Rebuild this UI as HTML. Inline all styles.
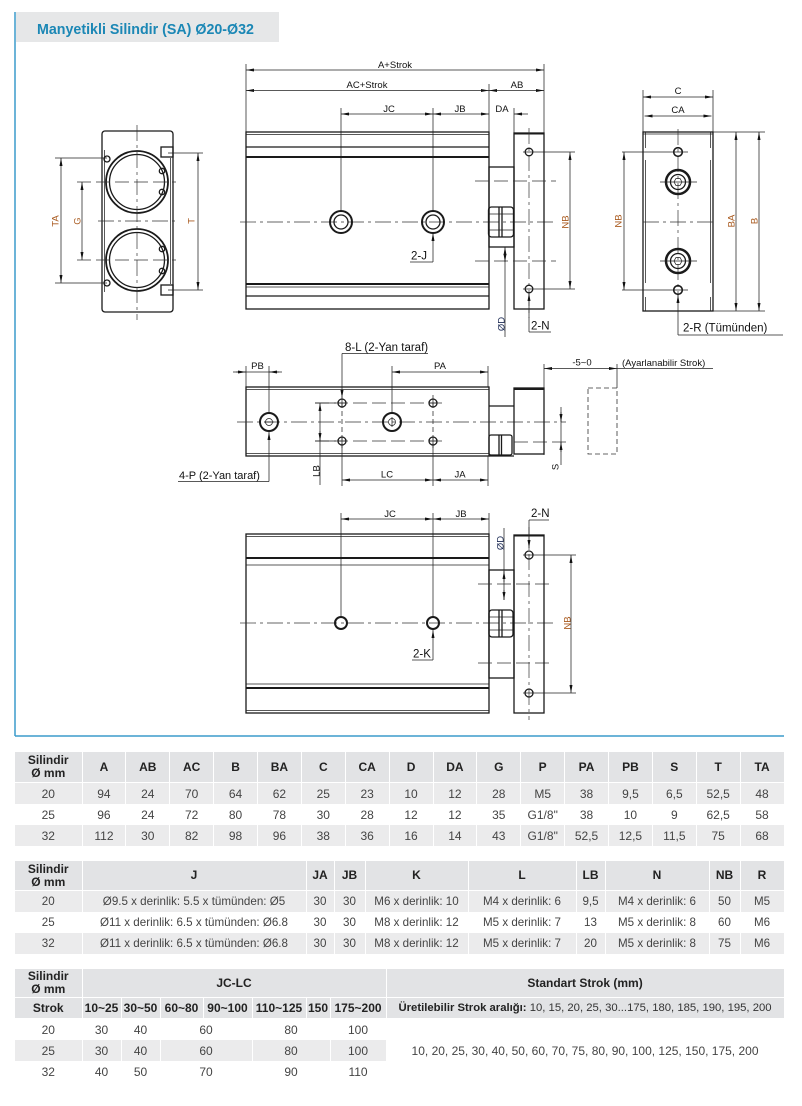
<!DOCTYPE html>
<html><head><meta charset="utf-8">
<style>
body{margin:0;background:#fff;}
#pg{position:relative;width:802px;height:1106px;overflow:hidden;background:#fff;font-family:"Liberation Sans",sans-serif;}
.title{position:absolute;left:16px;top:12px;width:263px;height:30px;background:#e6e7e8;}
.title span{position:absolute;left:21px;top:10px;font-size:15px;font-weight:bold;color:#1b87b5;white-space:nowrap;transform:scaleX(0.95);transform-origin:0 0;line-height:15px;}
table.tb{position:absolute;left:15px;width:769px;border-collapse:collapse;table-layout:fixed;font-family:"Liberation Sans",sans-serif;font-size:12px;color:#444;}
table.tb td,table.tb th{padding:0;text-align:center;vertical-align:middle;border-right:1px solid #fff;white-space:nowrap;overflow:visible;}
table.tb th{background:#e2e3e5;font-weight:bold;color:#222;line-height:13px;border-bottom:1px solid #fff;}
table.tb tr.g td{background:#ebebec;}
table.tb td{height:21px;}
</style></head><body><div id="pg">
<svg width="802" height="745" style="position:absolute;left:0;top:0" xmlns="http://www.w3.org/2000/svg">
<defs>
<marker id="a" viewBox="0 0 8 3" refX="8" refY="1.5" markerWidth="8" markerHeight="3" markerUnits="userSpaceOnUse" orient="auto-start-reverse"><path d="M0,0L8,1.5L0,3z" fill="#111"/></marker>
</defs>
<style>
.o{stroke:#1a1a1a;stroke-width:1.3;fill:none}
.b{stroke:#1a1a1a;stroke-width:2;fill:none}
.t{stroke:#222;stroke-width:0.75;fill:none}
.c{stroke:#333;stroke-width:0.7;fill:none;stroke-dasharray:16 4 3 4}
.d{stroke:#333;stroke-width:0.8;fill:none;stroke-dasharray:14 5}
.dd{stroke:#333;stroke-width:0.8;fill:none;stroke-dasharray:5 3}
.k{marker-start:url(#a);marker-end:url(#a)}
.ks{marker-start:url(#a)}
.ke{marker-end:url(#a)}
text{font-family:"Liberation Sans",sans-serif;font-size:9.5px;fill:#111}
.m{text-anchor:middle}
.r{fill:#a95a1f}
.L{font-size:11.5px}
</style>
<!-- frame -->
<line x1="15" y1="12" x2="15" y2="736" stroke="#3b9ccb" stroke-width="1.5"/>
<line x1="15" y1="736" x2="784" y2="736" stroke="#3b9ccb" stroke-width="1.5"/>

<!-- ===== TOP VIEW ===== -->
<line class="t" x1="246" y1="64" x2="246" y2="132"/>
<line class="t" x1="544" y1="64" x2="544" y2="133"/>
<line class="t" x1="489" y1="84" x2="489" y2="167"/>
<line class="t" x1="341" y1="108" x2="341" y2="211"/>
<line class="t" x1="433" y1="108" x2="433" y2="211"/>
<line class="t" x1="514" y1="108" x2="514" y2="133"/>
<line class="t k" x1="246" y1="70" x2="544" y2="70"/>
<line class="t k" x1="246" y1="90.5" x2="489" y2="90.5"/>
<line class="t k" x1="489" y1="90.5" x2="544" y2="90.5"/>
<line class="t k" x1="341" y1="114" x2="433" y2="114"/>
<line class="t k" x1="433" y1="114" x2="489" y2="114"/>
<line class="t ks" x1="514" y1="114" x2="528" y2="114"/>
<text class="m" x="395" y="68">A+Strok</text>
<text class="m" x="367" y="88">AC+Strok</text>
<text class="m" x="517" y="88">AB</text>
<text class="m" x="389" y="112">JC</text>
<text class="m" x="460" y="112">JB</text>
<text class="m" x="502" y="112">DA</text>

<rect class="o" x="246" y="132" width="243" height="177"/>
<line class="t" x1="246" y1="134.5" x2="489" y2="134.5"/>
<line class="o" x1="246" y1="147" x2="489" y2="147"/>
<line class="b" x1="246" y1="157" x2="489" y2="157"/>
<line class="b" x1="246" y1="284" x2="489" y2="284"/>
<line class="t" x1="246" y1="287" x2="489" y2="287"/>
<line class="o" x1="246" y1="296" x2="489" y2="296"/>
<line class="c" x1="240" y1="222" x2="556" y2="222"/>
<circle class="b" cx="341" cy="222" r="11"/>
<circle class="o" cx="341" cy="222" r="7"/>
<circle class="b" cx="433" cy="222" r="11"/>
<circle class="o" cx="433" cy="222" r="7"/>
<line class="t ks" x1="433" y1="233" x2="433" y2="262"/>
<line class="t" x1="433" y1="262" x2="410" y2="262"/>
<text class="L" x="411" y="259.5">2-J</text>

<rect class="o" x="489" y="167" width="25" height="80"/>
<rect class="o" x="488.5" y="207" width="25" height="30" rx="3" fill="#fff"/>
<line class="o" x1="499" y1="207" x2="499" y2="237"/>
<line class="o" x1="502" y1="207" x2="502" y2="237"/>
<line class="t" x1="488.5" y1="214" x2="513.5" y2="214"/>
<line class="t" x1="488.5" y1="230" x2="513.5" y2="230"/>
<rect class="o" x="514" y="133" width="30" height="176"/>
<line class="b" x1="514" y1="133.5" x2="544" y2="133.5"/>
<line class="c" x1="529" y1="128" x2="529" y2="318"/>
<circle class="o" cx="529" cy="152" r="3.8"/>
<circle class="o" cx="529" cy="289" r="3.8"/>
<line class="t" x1="523" y1="152" x2="575" y2="152"/>
<line class="t" x1="523" y1="289" x2="575" y2="289"/>
<line class="t k" x1="570" y1="152" x2="570" y2="289"/>
<text class="m r" transform="rotate(-90 565 222)" x="565" y="225.5">NB</text>
<line class="d" x1="475" y1="181" x2="556" y2="181"/>
<line class="d" x1="475" y1="261" x2="556" y2="261"/>
<line class="t ks" x1="505" y1="247" x2="505" y2="337"/>
<line class="t ke" x1="505" y1="252" x2="505" y2="262"/>
<text class="m" style="fill:#1d2b55" transform="rotate(-90 501 324)" x="501" y="327.5">ØD</text>
<line class="t ks" x1="529" y1="293" x2="529" y2="332"/>
<line class="t" x1="529" y1="332" x2="551" y2="332"/>
<text class="L" x="531" y="329.5">2-N</text>

<!-- ===== LEFT END VIEW ===== -->
<rect class="o" x="102" y="131" width="71" height="181" rx="3"/>
<line class="t" x1="104.5" y1="150" x2="104.5" y2="292"/>
<line class="t" x1="170.5" y1="158" x2="170.5" y2="284"/>
<rect class="o" x="161" y="147" width="12" height="10"/>
<rect class="o" x="161" y="285" width="12" height="10"/>
<circle cx="137" cy="182" r="31" fill="none" stroke="#1a1a1a" stroke-width="1.8"/>
<circle class="o" cx="137" cy="182" r="27.5"/>
<circle cx="137" cy="260" r="31" fill="none" stroke="#1a1a1a" stroke-width="1.8"/>
<circle class="o" cx="137" cy="260" r="27.5"/>
<circle class="o" cx="162" cy="171" r="2.7" fill="#fff"/>
<circle class="o" cx="162" cy="192" r="2.7" fill="#fff"/>
<circle class="o" cx="162" cy="249" r="2.7" fill="#fff"/>
<circle class="o" cx="162" cy="271" r="2.7" fill="#fff"/>
<circle class="o" cx="107" cy="159" r="3" fill="#fff"/>
<circle class="o" cx="107" cy="283" r="3" fill="#fff"/>
<line class="c" x1="137" y1="125" x2="137" y2="320"/>
<line class="c" x1="98" y1="221" x2="176" y2="221"/>
<line class="d" x1="77" y1="182" x2="176" y2="182"/>
<line class="d" x1="77" y1="260" x2="176" y2="260"/>
<line class="t" x1="55" y1="158" x2="107" y2="158"/>
<line class="t" x1="55" y1="283" x2="107" y2="283"/>
<line class="t k" x1="61" y1="158" x2="61" y2="283"/>
<line class="t k" x1="82" y1="182" x2="82" y2="260"/>
<line class="t" x1="168" y1="153" x2="203" y2="153"/>
<line class="t" x1="168" y1="290" x2="203" y2="290"/>
<line class="t k" x1="198" y1="153" x2="198" y2="290"/>
<text class="m r" transform="rotate(-90 55 221)" x="55" y="224.5">TA</text>
<text class="m r" transform="rotate(-90 77 221)" x="77" y="224.5">G</text>
<text class="m r" transform="rotate(-90 191 221)" x="191" y="224.5">T</text>

<!-- ===== RIGHT END VIEW ===== -->
<line class="t" x1="643" y1="90" x2="643" y2="132"/>
<line class="t" x1="713" y1="90" x2="713" y2="132"/>
<line class="t k" x1="643" y1="97" x2="713" y2="97"/>
<line class="t k" x1="644.5" y1="116" x2="711.5" y2="116"/>
<text class="m" x="678" y="94">C</text>
<text class="m" x="678" y="113">CA</text>
<rect class="o" x="643" y="132" width="70" height="179"/>
<line class="t" x1="643" y1="134" x2="713" y2="134"/>
<line class="t" x1="645.5" y1="132" x2="645.5" y2="148"/>
<line class="t" x1="645.5" y1="160" x2="645.5" y2="283"/>
<line class="t" x1="645.5" y1="297" x2="645.5" y2="311"/>
<line class="t" x1="710.5" y1="132" x2="710.5" y2="148"/>
<line class="t" x1="710.5" y1="160" x2="710.5" y2="283"/>
<line class="t" x1="710.5" y1="297" x2="710.5" y2="311"/>
<line class="c" x1="678" y1="129" x2="678" y2="296"/>
<line class="c" x1="643" y1="222" x2="713" y2="222"/>
<circle cx="678" cy="152" r="4.3" fill="none" stroke="#1a1a1a" stroke-width="1.6"/>
<circle cx="678" cy="290" r="4.3" fill="none" stroke="#1a1a1a" stroke-width="1.6"/>
<circle cx="678" cy="182" r="12" fill="none" stroke="#1a1a1a" stroke-width="2.5"/>
<circle class="o" cx="678" cy="182" r="7.5"/>
<polygon class="t" points="682,182 680,185.5 676,185.5 674,182 676,178.5 680,178.5"/>
<circle cx="678" cy="261" r="12" fill="none" stroke="#1a1a1a" stroke-width="2.5"/>
<circle class="o" cx="678" cy="261" r="7.5"/>
<polygon class="t" points="682,261 680,264.5 676,264.5 674,261 676,257.5 680,257.5"/>
<line class="t" x1="660" y1="182" x2="697" y2="182"/>
<line class="t" x1="660" y1="261" x2="697" y2="261"/>
<line class="t" x1="622" y1="152" x2="688" y2="152"/>
<line class="t" x1="622" y1="290" x2="688" y2="290"/>
<line class="t k" x1="624" y1="152" x2="624" y2="290"/>
<text class="m r" transform="rotate(-90 618 221)" x="618" y="224.5">NB</text>
<line class="t" x1="713" y1="132" x2="765" y2="132"/>
<line class="t" x1="713" y1="311" x2="765" y2="311"/>
<line class="t k" x1="736" y1="132" x2="736" y2="311"/>
<line class="t k" x1="759" y1="132" x2="759" y2="311"/>
<text class="m r" transform="rotate(-90 731 221)" x="731" y="224.5">BA</text>
<text class="m r" transform="rotate(-90 754 221)" x="754" y="224.5">B</text>
<line class="t ks" x1="678" y1="295" x2="678" y2="335"/>
<line class="t" x1="678" y1="335" x2="783" y2="335"/>
<text class="L" x="683" y="331.5">2-R (Tümünden)</text>

<!-- ===== MIDDLE VIEW ===== -->
<text class="L" x="345" y="351">8-L (2-Yan taraf)</text>
<line class="t" x1="342" y1="353.5" x2="428" y2="353.5"/>
<line class="t ke" x1="342" y1="353.5" x2="342" y2="398"/>
<line class="t" x1="233" y1="372" x2="282" y2="372"/>
<line class="t ke" x1="236" y1="372" x2="246" y2="372"/>
<line class="t ke" x1="279" y1="372" x2="269" y2="372"/>
<text class="m" x="257.5" y="369">PB</text>
<line class="t" x1="246" y1="366" x2="246" y2="387"/>
<line class="t" x1="269" y1="366" x2="269" y2="412"/>
<line class="t k" x1="392" y1="372" x2="488" y2="372"/>
<text class="m" x="440" y="369">PA</text>
<line class="t" x1="392" y1="366" x2="392" y2="412"/>
<line class="t" x1="488" y1="366" x2="488" y2="387"/>
<rect class="o" x="246" y="387" width="243" height="69"/>
<line class="t" x1="246" y1="389.5" x2="489" y2="389.5"/>
<line class="t" x1="246" y1="453.5" x2="489" y2="453.5"/>
<line class="c" x1="237" y1="422" x2="566" y2="422"/>
<circle class="b" cx="269" cy="422" r="9"/>
<circle class="t" cx="269" cy="422" r="3.5"/>
<line class="t" x1="264" y1="422" x2="274" y2="422"/>
<circle class="b" cx="392" cy="422" r="9"/>
<circle class="t" cx="392" cy="422" r="3.5"/>
<line class="t" x1="392" y1="417" x2="392" y2="427"/>
<line class="t ks" x1="269" y1="432" x2="269" y2="481.5"/>
<line class="t" x1="269" y1="481.5" x2="178" y2="481.5"/>
<text class="L" style="font-size:11px" x="179" y="479">4-P (2-Yan taraf)</text>
<line class="d" x1="315" y1="403" x2="442" y2="403"/>
<line class="d" x1="315" y1="441" x2="442" y2="441"/>
<line class="t" x1="315" y1="403" x2="336" y2="403"/>
<line class="t" x1="315" y1="441" x2="336" y2="441"/>
<line class="dd" x1="342" y1="395" x2="342" y2="450"/>
<line class="dd" x1="433" y1="395" x2="433" y2="450"/>
<circle class="o" cx="342" cy="403" r="4" fill="#fff"/>
<circle class="o" cx="433" cy="403" r="4" fill="#fff"/>
<circle class="o" cx="342" cy="441" r="4" fill="#fff"/>
<circle class="o" cx="433" cy="441" r="4" fill="#fff"/>
<line class="t" x1="338" y1="403" x2="346" y2="403"/><line class="t" x1="342" y1="399" x2="342" y2="407"/>
<line class="t" x1="429" y1="403" x2="437" y2="403"/><line class="t" x1="433" y1="399" x2="433" y2="407"/>
<line class="t" x1="338" y1="441" x2="346" y2="441"/><line class="t" x1="342" y1="437" x2="342" y2="445"/>
<line class="t" x1="429" y1="441" x2="437" y2="441"/><line class="t" x1="433" y1="437" x2="433" y2="445"/>
<line class="t ks" x1="320" y1="403" x2="320" y2="485"/>
<line class="t ke" x1="320" y1="431" x2="320" y2="441"/>
<text class="m" transform="rotate(-90 316 471)" x="316" y="474.5">LB</text>
<line class="t" x1="342" y1="445" x2="342" y2="486"/>
<line class="t" x1="433" y1="445" x2="433" y2="486"/>
<line class="t" x1="488" y1="456" x2="488" y2="486"/>
<line class="t k" x1="342" y1="480" x2="433" y2="480"/>
<line class="t k" x1="433" y1="480" x2="488" y2="480"/>
<text class="m" x="387" y="477.5">LC</text>
<text class="m" x="460" y="477.5">JA</text>
<line class="o" x1="489" y1="406" x2="514" y2="406"/>
<line class="o" x1="489" y1="456" x2="514" y2="456"/>
<rect class="o" x="489" y="435" width="23" height="20" rx="2" fill="#fff"/>
<line class="o" x1="499" y1="435" x2="499" y2="455"/>
<line class="o" x1="501.5" y1="435" x2="501.5" y2="455"/>
<rect class="o" x="514" y="388" width="30" height="66"/>
<line class="b" x1="514" y1="389" x2="544" y2="389"/>
<line class="d" x1="514" y1="442" x2="566" y2="442"/>
<line class="t" x1="544" y1="364" x2="544" y2="455"/>
<line class="t" x1="617" y1="364" x2="617" y2="388"/>
<line class="t k" x1="544" y1="368.5" x2="617" y2="368.5"/>
<line class="t" x1="617" y1="368.5" x2="713" y2="368.5"/>
<text class="m" x="582" y="365.5">-5~0</text>
<text x="622" y="366">(Ayarlanabilir Strok)</text>
<rect class="dd" x="588" y="388" width="29" height="66"/>
<line class="t" x1="561" y1="407" x2="561" y2="465"/>
<line class="t ke" x1="561" y1="412" x2="561" y2="422"/>
<line class="t ke" x1="561" y1="452" x2="561" y2="442"/>
<text class="m" transform="rotate(-90 555 467)" x="555" y="470.5">S</text>

<!-- ===== BOTTOM VIEW ===== -->
<line class="t" x1="341" y1="513" x2="341" y2="617"/>
<line class="t" x1="433" y1="513" x2="433" y2="617"/>
<line class="t" x1="489" y1="513" x2="489" y2="534"/>
<line class="t k" x1="341" y1="519" x2="433" y2="519"/>
<line class="t k" x1="433" y1="519" x2="489" y2="519"/>
<text class="m" x="390" y="517">JC</text>
<text class="m" x="461" y="517">JB</text>
<rect class="o" x="246" y="534" width="243" height="179"/>
<line class="t" x1="246" y1="536.5" x2="489" y2="536.5"/>
<line class="b" x1="246" y1="558" x2="489" y2="558"/>
<line class="t" x1="246" y1="565" x2="489" y2="565"/>
<line class="t" x1="246" y1="684" x2="489" y2="684"/>
<line class="b" x1="246" y1="688" x2="489" y2="688"/>
<line class="t" x1="246" y1="710.5" x2="489" y2="710.5"/>
<line class="c" x1="240" y1="623" x2="556" y2="623"/>
<circle class="b" cx="341" cy="623" r="6"/>
<circle class="b" cx="433" cy="623" r="6"/>
<line class="ks t" x1="433" y1="630" x2="433" y2="660"/>
<line class="t" x1="433" y1="660" x2="412" y2="660"/>
<text class="L" x="413" y="657.5">2-K</text>
<rect class="o" x="489" y="570" width="25" height="108"/>
<rect class="o" x="489" y="610" width="24" height="27" rx="3" fill="#fff"/>
<line class="o" x1="499" y1="610" x2="499" y2="637"/>
<line class="o" x1="502" y1="610" x2="502" y2="637"/>
<line class="t" x1="489" y1="617" x2="513" y2="617"/>
<line class="t" x1="489" y1="630" x2="513" y2="630"/>
<line class="d" x1="478" y1="584" x2="550" y2="584"/>
<line class="d" x1="478" y1="663" x2="550" y2="663"/>
<rect class="o" x="514" y="535" width="30" height="178"/>
<line class="b" x1="514" y1="535.5" x2="544" y2="535.5"/>
<line class="c" x1="529" y1="527" x2="529" y2="720"/>
<circle class="o" cx="529" cy="555" r="4"/>
<circle class="o" cx="529" cy="693" r="4"/>
<line class="t" x1="523" y1="555" x2="576" y2="555"/>
<line class="t" x1="523" y1="693" x2="576" y2="693"/>
<line class="t k" x1="571" y1="555" x2="571" y2="693"/>
<text class="m r" transform="rotate(-90 567 623)" x="567" y="626.5">NB</text>
<line class="t" x1="504" y1="528" x2="504" y2="600"/>
<line class="t ke" x1="504" y1="582" x2="504" y2="571"/>
<line class="t ke" x1="504" y1="590" x2="504" y2="600"/>
<text class="m" style="fill:#1d2b55" transform="rotate(-90 500 543)" x="500" y="546.5">ØD</text>
<line class="t ke" x1="529" y1="520" x2="529" y2="548"/>
<line class="t" x1="529" y1="520" x2="549" y2="520"/>
<text class="L" x="531" y="517">2-N</text>
</svg>

<div class="title"><span>Manyetikli Silindir (SA) Ø20-Ø32</span></div>

<table class="tb" style="top:752px">
<colgroup><col style="width:67px"><col span="16" style="width:43.875px"></colgroup>
<tr><th style="height:30px">Silindir<br>Ø mm</th><th>A</th><th>AB</th><th>AC</th><th>B</th><th>BA</th><th>C</th><th>CA</th><th>D</th><th>DA</th><th>G</th><th>P</th><th>PA</th><th>PB</th><th>S</th><th>T</th><th>TA</th></tr>
<tr class="g"><td>20</td><td>94</td><td>24</td><td>70</td><td>64</td><td>62</td><td>25</td><td>23</td><td>10</td><td>12</td><td>28</td><td>M5</td><td>38</td><td>9,5</td><td>6,5</td><td>52,5</td><td>48</td></tr>
<tr><td>25</td><td>96</td><td>24</td><td>72</td><td>80</td><td>78</td><td>30</td><td>28</td><td>12</td><td>12</td><td>35</td><td>G1/8"</td><td>38</td><td>10</td><td>9</td><td>62,5</td><td>58</td></tr>
<tr class="g"><td>32</td><td>112</td><td>30</td><td>82</td><td>98</td><td>96</td><td>38</td><td>36</td><td>16</td><td>14</td><td>43</td><td>G1/8"</td><td>52,5</td><td>12,5</td><td>11,5</td><td>75</td><td>68</td></tr>
</table>

<table class="tb" style="top:861px;font-size:11.6px">
<colgroup><col style="width:67px"><col style="width:224px"><col style="width:28px"><col style="width:31px"><col style="width:103px"><col style="width:108px"><col style="width:29px"><col style="width:104px"><col style="width:31px"><col style="width:44px"></colgroup>
<tr><th style="height:29px;font-size:12px">Silindir<br>Ø mm</th><th style="font-size:12px">J</th><th style="font-size:12px">JA</th><th style="font-size:12px">JB</th><th style="font-size:12px">K</th><th style="font-size:12px">L</th><th style="font-size:12px">LB</th><th style="font-size:12px">N</th><th style="font-size:12px">NB</th><th style="font-size:12px">R</th></tr>
<tr class="g"><td>20</td><td>Ø9.5 x derinlik: 5.5 x tümünden: Ø5</td><td>30</td><td>30</td><td>M6 x derinlik: 10</td><td>M4 x derinlik: 6</td><td>9,5</td><td>M4 x derinlik: 6</td><td>50</td><td>M5</td></tr>
<tr><td>25</td><td>Ø11 x derinlik: 6.5 x tümünden: Ø6.8</td><td>30</td><td>30</td><td>M8 x derinlik: 12</td><td>M5 x derinlik: 7</td><td>13</td><td>M5 x derinlik: 8</td><td>60</td><td>M6</td></tr>
<tr class="g"><td>32</td><td>Ø11 x derinlik: 6.5 x tümünden: Ø6.8</td><td>30</td><td>30</td><td>M8 x derinlik: 12</td><td>M5 x derinlik: 7</td><td>20</td><td>M5 x derinlik: 8</td><td>75</td><td>M6</td></tr>
</table>

<table class="tb" style="top:969px">
<colgroup><col style="width:67px"><col style="width:39px"><col style="width:39px"><col style="width:43px"><col style="width:49px"><col style="width:54px"><col style="width:24px"><col style="width:56px"><col style="width:398px"></colgroup>
<tr><th style="height:28px">Silindir<br>Ø mm</th><th colspan="7">JC-LC</th><th>Standart Strok (mm)</th></tr>
<tr><th style="height:20px">Strok</th><th>10~25</th><th>30~50</th><th>60~80</th><th>90~100</th><th>110~125</th><th>150</th><th>175~200</th><th style="font-weight:normal;color:#333;font-size:11.3px"><b style="color:#222">Üretilebilir Strok aralığı:</b> 10, 15, 20, 25, 30...175, 180, 185, 190, 195, 200</th></tr>
<tr><td>20</td><td>30</td><td>40</td><td colspan="2">60</td><td colspan="2">80</td><td>100</td><td rowspan="3" style="background:#fff">10, 20, 25, 30, 40, 50, 60, 70, 75, 80, 90, 100, 125, 150, 175, 200</td></tr>
<tr class="g"><td>25</td><td>30</td><td>40</td><td colspan="2">60</td><td colspan="2">80</td><td>100</td></tr>
<tr><td>32</td><td>40</td><td>50</td><td colspan="2">70</td><td colspan="2">90</td><td>110</td></tr>
</table>
</div></body></html>
